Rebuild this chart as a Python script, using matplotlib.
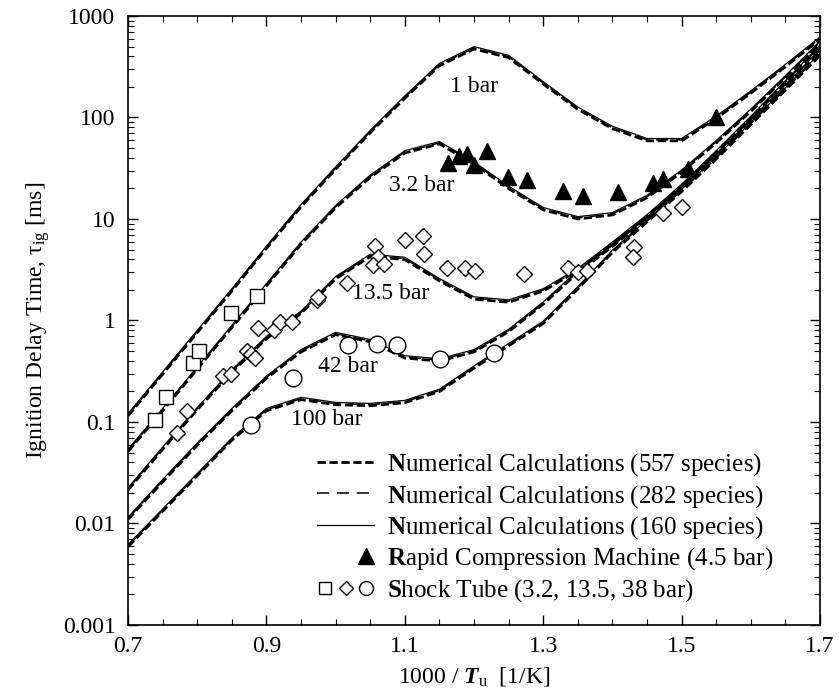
import matplotlib
matplotlib.use("Agg")
import matplotlib.pyplot as plt
import matplotlib.transforms as mtransforms
from matplotlib.lines import Line2D
from matplotlib.legend_handler import HandlerTuple
from matplotlib.ticker import FixedLocator, FuncFormatter, LogLocator, NullFormatter

plt.rcParams['font.family'] = ['Liberation Serif', 'DejaVu Serif']
plt.rcParams['mathtext.fontset'] = 'custom'
plt.rcParams['mathtext.rm'] = 'Liberation Serif'
plt.rcParams['mathtext.it'] = 'Liberation Serif:italic'
plt.rcParams['mathtext.bf'] = 'Liberation Serif:bold'
plt.rcParams['mathtext.bfit'] = 'Liberation Serif:bold:italic'

# 1000/T grid of the calculations
inv_T = [0.70, 0.75, 0.80, 0.85, 0.90, 0.95, 1.00, 1.05, 1.10, 1.15, 1.20,
         1.25, 1.30, 1.35, 1.40, 1.45, 1.50, 1.55, 1.60, 1.65, 1.70]

# log10(tau_ig / ms) for each pressure
lg_1bar = [-0.93, -0.52, -0.11, 0.30, 0.72, 1.13, 1.50, 1.86, 2.20, 2.52, 2.685,
           2.60, 2.34, 2.09, 1.90, 1.78, 1.78, 2.00, 2.25, 2.51, 2.78]
lg_3bar = [-1.28, -0.88, -0.47, -0.06, 0.35, 0.76, 1.12, 1.42, 1.66, 1.75, 1.55,
           1.31, 1.10, 1.01, 1.05, 1.22, 1.47, 1.76, 2.07, 2.40, 2.74]
lg_13bar = [-1.66, -1.26, -0.87, -0.50, -0.17, 0.08, 0.42, 0.64, 0.61, 0.40, 0.22,
            0.19, 0.30, 0.50, 0.76, 1.03, 1.33, 1.66, 2.00, 2.35, 2.70]
lg_42bar = [-1.95, -1.58, -1.22, -0.88, -0.56, -0.30, -0.13, -0.20, -0.36, -0.39, -0.30,
            -0.10, 0.17, 0.48, 0.74, 1.01, 1.31, 1.63, 1.97, 2.31, 2.66]
lg_100bar = [-2.22, -1.87, -1.52, -1.17, -0.88, -0.77, -0.82, -0.83, -0.80, -0.69, -0.46,
             -0.24, -0.02, 0.32, 0.68, 0.98, 1.28, 1.60, 1.94, 2.28, 2.62]
curves = [lg_1bar, lg_3bar, lg_13bar, lg_42bar, lg_100bar]

# rapid compression machine, 4.5 bar
rcm_x = [1.162, 1.178, 1.190, 1.200, 1.219, 1.249, 1.277, 1.329, 1.357, 1.408,
         1.459, 1.473, 1.509, 1.550]
rcm_y = [35.6, 42, 44, 34, 47, 26, 24, 19, 17, 18.5, 22.6, 24.5, 31, 101]

# shock tube, 3.2 bar
st3_x = [0.739, 0.755, 0.794, 0.803, 0.849, 0.886]
st3_y = [0.105, 0.176, 0.38, 0.50, 1.19, 1.74]

# shock tube, 13.5 bar
st13_x = [0.771, 0.785, 0.837, 0.849, 0.872, 0.878, 0.884, 0.888, 0.911, 0.920, 0.937,
          0.973, 0.975, 1.016, 1.057, 1.061, 1.054, 1.070, 1.100, 1.126, 1.128,
          1.161, 1.187, 1.201, 1.272, 1.336, 1.350, 1.363, 1.431, 1.430, 1.473, 1.500]
st13_y = [0.078, 0.128, 0.284, 0.30, 0.50, 0.47, 0.43, 0.84, 0.80, 0.97, 0.97,
          1.59, 1.70, 2.34, 5.4, 4.2, 3.5, 3.6, 6.2, 6.8, 4.5,
          3.3, 3.3, 3.1, 2.9, 3.3, 3.0, 3.1, 5.3, 4.2, 11.5, 13.2]

# shock tube, 38 bar
st38_x = [0.878, 0.938, 1.018, 1.060, 1.089, 1.151, 1.229]
st38_y = [0.093, 0.27, 0.57, 0.59, 0.57, 0.42, 0.48]

labels = ['1 bar', '3.2 bar', '13.5 bar', '42 bar', '100 bar']
label_x = [1.20, 1.125, 1.08, 1.018, 0.987]
label_y = [200, 21.6, 1.86, 0.35, 0.105]

fig = plt.figure(figsize=(8.39, 6.98), dpi=100)
ax = fig.add_axes([0.1526, 0.1046, 0.8248, 0.8725])

up = mtransforms.offset_copy(ax.transData, fig=fig, x=0, y=1.3, units='dots')
down = mtransforms.offset_copy(ax.transData, fig=fig, x=0, y=-1.0, units='dots')

for lg in curves:
    tau = [10 ** v for v in lg]
    ax.plot(inv_T, tau, color='black', lw=2.0, dashes=(3, 1.3), transform=down)
    ax.plot(inv_T, tau, color='black', lw=1.1, dashes=(8, 5))
    ax.plot(inv_T, tau, color='black', lw=0.9, transform=up)

ax.plot(rcm_x, rcm_y, ls='none', marker='^', ms=12, mfc='black', mec='black')
ax.plot(st3_x, st3_y, ls='none', marker='s', ms=10, mfc='white', mec='black', mew=1.0)
ax.plot(st13_x, st13_y, ls='none', marker='D', ms=8, mfc='white', mec='black', mew=1.0)
ax.plot(st38_x, st38_y, ls='none', marker='o', ms=12, mfc='white', mec='black', mew=1.0)

for t, x, y in zip(labels, label_x, label_y):
    ax.text(x, y, t, fontsize=17, ha='center', va='center')

ax.set_yscale('log')
ax.set_xlim(0.7, 1.7)
ax.set_ylim(0.001, 1000)
ax.xaxis.set_major_locator(FixedLocator([0.7, 0.9, 1.1, 1.3, 1.5, 1.7]))
ax.xaxis.set_minor_locator(FixedLocator([0.7 + 0.05 * i for i in range(21)]))
ax.xaxis.set_major_formatter(FuncFormatter(lambda v, p: '%.1f' % v))
ax.xaxis.set_minor_formatter(NullFormatter())
ax.yaxis.set_major_locator(LogLocator(base=10, numticks=10))
ax.yaxis.set_minor_locator(LogLocator(base=10, subs=range(2, 10), numticks=10))
ax.yaxis.set_major_formatter(FuncFormatter(lambda v, p: '%g' % v))
ax.yaxis.set_minor_formatter(NullFormatter())
ax.tick_params(which='both', direction='in', top=True, right=True, labelsize=17)
ax.tick_params(which='major', length=7, width=1)
ax.tick_params(which='minor', length=4, width=0.8)
ax.tick_params(axis='x', pad=8)
ax.tick_params(axis='y', pad=9)
for s in ax.spines.values():
    s.set_linewidth(1.2)

ax.set_xlabel(r'1000 / $\mathbfit{T}_{\mathrm{u}}$  [1/K]', fontsize=17, labelpad=6)
ax.set_ylabel(r'Ignition Delay Time, τ$_{\mathrm{ig}}$ [ms]', fontsize=17, labelpad=8)

h557 = Line2D([], [], color='black', lw=2.0, dashes=(3, 1.3))
h282 = Line2D([], [], color='black', lw=1.1, dashes=(8, 5))
h160 = Line2D([], [], color='black', lw=0.9)
blank = Line2D([], [], ls='none', marker='none')
tri = Line2D([], [], ls='none', marker='^', ms=12, mfc='black', mec='black')
sq = Line2D([], [], ls='none', marker='s', ms=9, mfc='white', mec='black')
dm = Line2D([], [], ls='none', marker='D', ms=7, mfc='white', mec='black')
ci = Line2D([], [], ls='none', marker='o', ms=10, mfc='white', mec='black')

ax.legend([h557, h282, h160, (blank, blank, tri), (sq, dm, ci)],
          [r'$\mathbf{N}$umerical Calculations (557 species)',
           r'$\mathbf{N}$umerical Calculations (282 species)',
           r'$\mathbf{N}$umerical Calculations (160 species)',
           r'$\mathbf{R}$apid Compression Machine (4.5 bar)',
           r'$\mathbf{S}$hock Tube (3.2, 13.5, 38 bar)'],
          handler_map={tuple: HandlerTuple(ndivide=None, pad=0.15)},
          loc='lower left', frameon=False, fontsize=18, handlelength=2.3,
          handletextpad=0.5, labelspacing=0.18, borderaxespad=0, borderpad=0,
          bbox_to_anchor=(0.273, 0.035))

fig.savefig('out.png', dpi=100)
